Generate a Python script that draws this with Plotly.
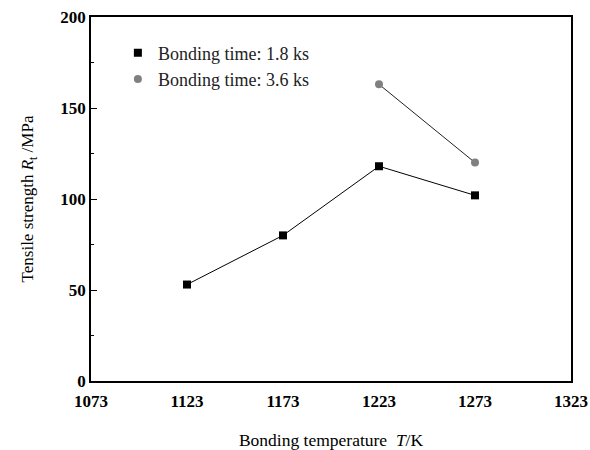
import plotly.graph_objects as go

temps_18 = [1123, 1173, 1223, 1273]
strength_18 = [53, 80, 118, 102]
temps_36 = [1223, 1273]
strength_36 = [163, 120]
x_ticks = [1073, 1123, 1173, 1223, 1273, 1323]
y_ticks = [0, 50, 100, 150, 200]

serif = "Liberation Serif, Times New Roman, serif"

fig = go.Figure()
# connecting lines (not in legend)
fig.add_trace(go.Scatter(
    x=temps_18, y=strength_18, mode="lines", showlegend=False,
    line=dict(color="black", width=1), hoverinfo="skip",
))
fig.add_trace(go.Scatter(
    x=temps_36, y=strength_36, mode="lines", showlegend=False,
    line=dict(color="#222222", width=1), hoverinfo="skip",
))
# markers (in legend)
fig.add_trace(go.Scatter(
    x=temps_18, y=strength_18, mode="markers",
    name="Bonding time: 1.8 ks", legendgroup="a",
    marker=dict(symbol="square", size=8, color="black"),
))
fig.add_trace(go.Scatter(
    x=temps_36, y=strength_36, mode="markers",
    name="Bonding time: 3.6 ks", legendgroup="b",
    marker=dict(symbol="circle", size=8, color="#808080"),
))

fig.update_layout(
    width=590, height=450,
    margin=dict(l=91, r=19, t=17, b=69),
    plot_bgcolor="white", paper_bgcolor="white",
    font=dict(family=serif, color="black", size=17),
    legend=dict(x=0.056, y=0.952, xanchor="left", yanchor="top",
                bgcolor="rgba(0,0,0,0)", font=dict(size=18, family=serif, color="#222222"),
                traceorder="grouped", tracegroupgap=0),
    showlegend=True,
)
fig.update_xaxes(
    range=[1073, 1323], tickvals=x_ticks, ticktext=[str(v) for v in x_ticks],
    showgrid=False, zeroline=False, showline=True, mirror=True,
    linecolor="black", linewidth=1.5, ticks="", automargin=False,
    ticklabelstandoff=4,
    tickfont=dict(family=serif, size=17, weight="bold"),
    title=dict(text="Bonding temperature  <i>T</i>/K", font=dict(size=17.5), standoff=24),
)
fig.update_yaxes(
    range=[0, 200], tickvals=y_ticks, automargin=False,
    showgrid=False, zeroline=False, showline=True, mirror=True,
    linecolor="black", linewidth=1.5, ticks="inside", ticklen=6, tickcolor="black",
    minor=dict(ticks="inside", dtick=25, ticklen=3, tickcolor="black"),
    tickfont=dict(family=serif, size=17, weight="bold"),
    title=dict(text="Tensile strength <i>R</i><sub>t</sub> /MPa", font=dict(size=17), standoff=22),
)

fig.write_html("out.html")
